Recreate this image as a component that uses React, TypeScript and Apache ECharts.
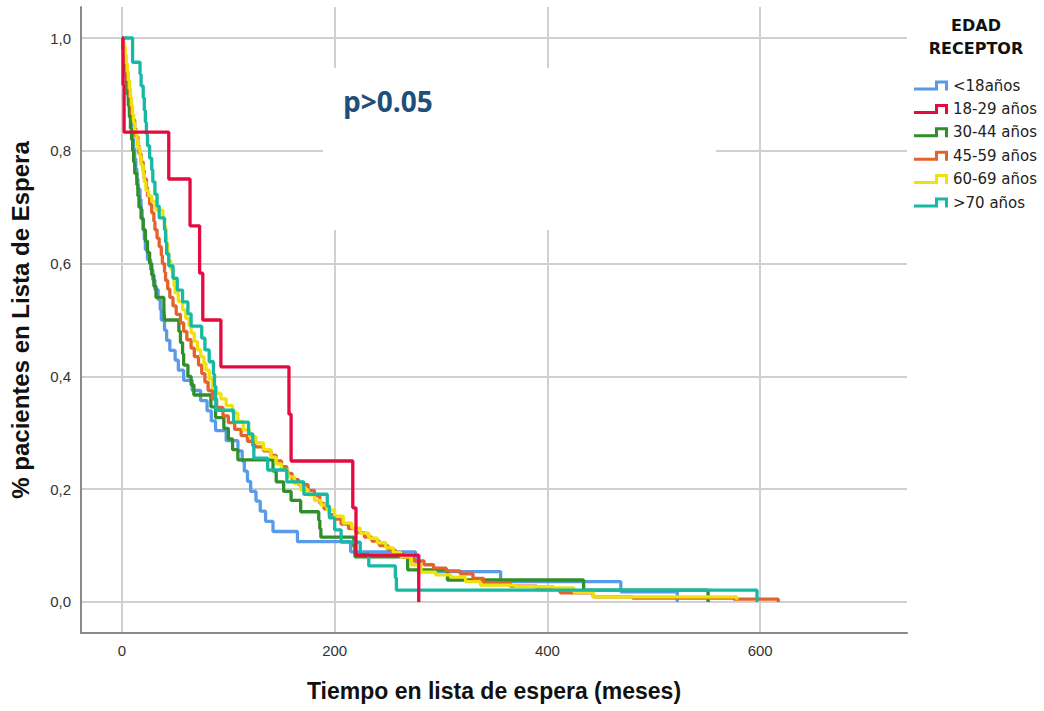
import React, { useEffect, useRef } from 'react';
import * as echarts from 'echarts';

const seriesNames = ['<18años', '18-29 años', '30-44 años', '45-59 años', '60-69 años', '>70 años'];
const seriesColors = ['#5a9be8', '#e30b40', '#2f8f2a', '#e3632d', '#eee20a', '#17b9a4'];

const under18: number[][] = [[0,1],[1,0.982],[2,0.964],[3,0.946],[4,0.929],[5,0.911],[6,0.893],[7,0.875],[8,0.857],[9,0.839],[10,0.821],[11,0.804],[12,0.786],[13,0.768],[14,0.75],[15,0.732],[17,0.714],[18,0.696],[19,0.679],[20,0.661],[21,0.643],[22,0.625],[24,0.607],[27,0.589],[29,0.571],[31,0.554],[34,0.536],[36,0.518],[37,0.5],[40,0.482],[42,0.464],[45,0.446],[50,0.429],[53,0.411],[58,0.393],[66,0.375],[74,0.357],[80,0.339],[84,0.321],[88,0.304],[98,0.286],[109,0.268],[113,0.25],[115,0.232],[118,0.214],[121,0.196],[126,0.179],[130,0.161],[135,0.143],[142,0.125],[165,0.107],[215,0.089],[276,0.071],[280,0.054],[356,0.036],[469,0.018],[522,0]];
const age18_29: number[][] = [[0,1],[1,0.917],[2,0.833],[44,0.75],[64,0.667],[73,0.583],[76,0.5],[93,0.417],[157,0.333],[159,0.25],[217,0.167],[220,0.083],[279,0]];
const age30_44: number[][] = [[0,1],[1,0.98],[2,0.96],[3,0.94],[4,0.92],[5,0.9],[6,0.88],[7,0.86],[8,0.84],[9,0.82],[10,0.8],[11,0.78],[12,0.76],[14,0.74],[15,0.72],[16,0.7],[18,0.68],[20,0.66],[22,0.64],[24,0.62],[26,0.6],[28,0.58],[30,0.56],[32,0.54],[39.4,0.52],[40,0.5],[53.5,0.48],[55,0.46],[57,0.44],[58,0.42],[62,0.4],[65,0.385],[67.6,0.367],[83.6,0.346],[88,0.327],[95.8,0.308],[100,0.289],[104,0.27],[109,0.252],[142,0.232],[145,0.213],[152,0.196],[159,0.18],[168,0.16],[185,0.145],[186,0.13],[187,0.115],[218,0.098],[219,0.08],[268.6,0.057],[306,0.039],[434,0.021],[551,0]];
const age45_59: number[][] = [[0,1],[1,0.985],[2,0.97],[3,0.955],[4,0.94],[5,0.925],[6,0.91],[7,0.895],[8,0.88],[9,0.865],[10,0.855],[12,0.84],[13,0.825],[15,0.81],[16,0.795],[18,0.78],[20,0.765],[21,0.75],[23,0.735],[24,0.72],[26,0.705],[28,0.69],[30,0.675],[31,0.66],[33,0.645],[35,0.63],[37,0.615],[38,0.6],[40,0.585],[41,0.57],[43,0.555],[45,0.54],[48,0.525],[51,0.51],[55,0.495],[58,0.48],[61,0.465],[65,0.45],[68,0.435],[72,0.42],[75,0.405],[78,0.39],[81,0.375],[85,0.36],[89,0.345],[95,0.33],[100,0.318],[106,0.306],[112,0.295],[118,0.285],[125,0.275],[133,0.268],[140,0.26],[145,0.25],[150,0.24],[155,0.228],[160,0.217],[166,0.208],[175,0.198],[181,0.188],[186,0.175],[190,0.165],[195,0.155],[200,0.147],[206,0.138],[213,0.13],[220,0.123],[228,0.115],[235,0.108],[242,0.1],[250,0.092],[257,0.085],[265,0.079],[274,0.073],[284,0.066],[293,0.06],[305,0.055],[318,0.05],[330,0.042],[340,0.034],[365,0.028],[390,0.022],[412,0.016],[443,0.009],[480,0.007],[575,0.005],[617,0]];
const age60_69: number[][] = [[0,1],[2,0.985],[3,0.97],[4,0.955],[5,0.94],[6,0.925],[7,0.91],[8,0.895],[9,0.88],[10,0.865],[11,0.85],[12,0.835],[14,0.82],[15,0.805],[17,0.79],[18,0.775],[20,0.76],[21,0.745],[22.5,0.73],[25,0.72],[28,0.71],[32,0.695],[38.5,0.68],[40,0.665],[41.3,0.65],[42,0.635],[43,0.62],[44,0.605],[46,0.59],[48,0.575],[49,0.56],[50,0.548],[53,0.533],[57,0.518],[60,0.503],[63,0.49],[65,0.477],[68,0.462],[71,0.447],[74,0.435],[77,0.423],[79,0.411],[82,0.395],[85,0.38],[89,0.37],[93,0.36],[98,0.348],[104,0.335],[109,0.32],[114,0.305],[120,0.293],[126,0.282],[133,0.27],[140,0.257],[145,0.245],[150,0.234],[156,0.222],[162,0.21],[168,0.199],[175,0.19],[181,0.18],[187,0.172],[193,0.163],[200,0.152],[208,0.14],[216,0.131],[224,0.122],[232,0.113],[240,0.105],[248,0.096],[255,0.088],[262,0.08],[272,0.066],[281,0.053],[295,0.048],[309,0.044],[323,0.036],[337,0.03],[370,0.027],[406,0.025],[425,0.017],[443,0.009],[578,0.004]];
const over70: number[][] = [[0,1],[10,0.957],[17,0.936],[18,0.915],[20,0.894],[21,0.872],[22,0.851],[23,0.83],[24,0.809],[26,0.787],[28,0.766],[29,0.745],[31,0.723],[33,0.702],[35,0.681],[40,0.66],[41,0.638],[42,0.617],[44,0.596],[48,0.574],[52,0.553],[57,0.532],[62,0.511],[65,0.489],[75,0.468],[78,0.447],[82,0.426],[86,0.404],[87,0.383],[88,0.362],[88.5,0.34],[105,0.319],[119,0.298],[123,0.277],[124,0.255],[137,0.234],[155,0.213],[171,0.191],[193,0.17],[195,0.149],[200,0.128],[206,0.106],[224,0.085],[232,0.064],[257,0.043],[258,0.021],[597,0]];

const seriesData = [under18, age18_29, age30_44, age45_59, age60_69, over70];

const xMin = -38.5;
const xMax = 738;
const yMin = -0.055;
const yMax = 1.055;

const legendTitle = ['EDAD', 'RECEPTOR'];
const annotation = 'p>0.05';

const stepIcon = 'path://M0,7 L21,7 L21,0 L34,0 L34,10 L31,10 L31,3 L24,3 L24,10 L0,10 Z';

export default function App() {
  const ref = useRef<HTMLDivElement>(null);
  useEffect(() => {
    if (!ref.current) return;
    const chart = echarts.init(ref.current, undefined, { renderer: 'svg' });
    const gridColor = '#d0d0d0';
    chart.setOption({
      animation: false,
      backgroundColor: '#ffffff',
      grid: { left: 80, top: 7, width: 827, height: 626, containLabel: false },
      xAxis: {
        type: 'value',
        min: xMin,
        max: xMax,
        name: 'Tiempo en lista de espera (meses)',
        nameLocation: 'middle',
        nameGap: 46,
        nameTextStyle: { fontFamily: 'Liberation Sans', fontWeight: 'bold', fontSize: 23, color: '#111', verticalAlign: 'top' },
        axisLine: { show: true, onZero: false, lineStyle: { color: '#8a8a8a', width: 2 } },
        axisTick: { show: false },
        axisLabel: { showMinLabel: false, showMaxLabel: false, margin: 10, fontFamily: 'Liberation Sans', fontSize: 15, color: '#333' },
        splitLine: { show: true, showMinLine: false, showMaxLine: false, lineStyle: { color: gridColor, width: 2 } },
      },
      yAxis: {
        type: 'value',
        min: yMin,
        max: yMax,
        name: '% pacientes en Lista de Espera',
        nameLocation: 'middle',
        nameRotate: 90,
        nameGap: 49,
        nameTextStyle: { fontFamily: 'Liberation Sans', fontWeight: 'bold', fontSize: 24, color: '#111' },
        axisLine: { show: true, onZero: false, lineStyle: { color: '#8a8a8a', width: 2 } },
        axisTick: { show: false },
        axisLabel: {
          showMinLabel: false,
          showMaxLabel: false,
          margin: 10,
          fontFamily: 'Liberation Sans',
          fontSize: 15,
          color: '#333',
          formatter: (v: number) => v.toFixed(1).replace('.', ','),
        },
        splitLine: { show: true, showMinLine: false, showMaxLine: false, lineStyle: { color: gridColor, width: 2 } },
      },
      legend: {
        orient: 'vertical',
        left: 909,
        top: 73,
        itemWidth: 34,
        itemHeight: 10,
        itemGap: 8.4,
        itemStyle: { borderWidth: 0 },
        selectedMode: false,
        icon: stepIcon,
        textStyle: { fontFamily: 'DejaVu Sans', fontSize: 15, color: '#222', lineHeight: 15 },
        data: seriesNames,
      },
      graphic: [
        { type: 'rect', z: 100, shape: { x: 323, y: 68, width: 393, height: 162 }, style: { fill: '#ffffff' } },
        { type: 'text', z: 101, x: 343, y: 101, style: { text: annotation, fill: '#1f4e79', font: 'bold 28px "Open Sans"', verticalAlign: 'middle', align: 'left' } },
        { type: 'text', z: 101, x: 976, y: 25, style: { text: legendTitle[0], fill: '#111', font: 'bold 16px "DejaVu Sans"', verticalAlign: 'middle', align: 'center' } },
        { type: 'text', z: 101, x: 976, y: 48, style: { text: legendTitle[1], fill: '#111', font: 'bold 16px "DejaVu Sans"', verticalAlign: 'middle', align: 'center' } },
      ],
      series: seriesNames.map((name, i) => ({
        name,
        type: 'line',
        step: 'end',
        data: seriesData[i],
        symbol: 'none',
        color: seriesColors[i],
        z: i === 1 ? 3 : 2,
        lineStyle: { color: seriesColors[i], width: 3.3 },
        itemStyle: { color: seriesColors[i] },
      })),
    });
    return () => chart.dispose();
  }, []);
  return <div ref={ref} style={{ position: 'fixed', left: 0, top: 0, width: 1044, height: 711 }} />;
}
